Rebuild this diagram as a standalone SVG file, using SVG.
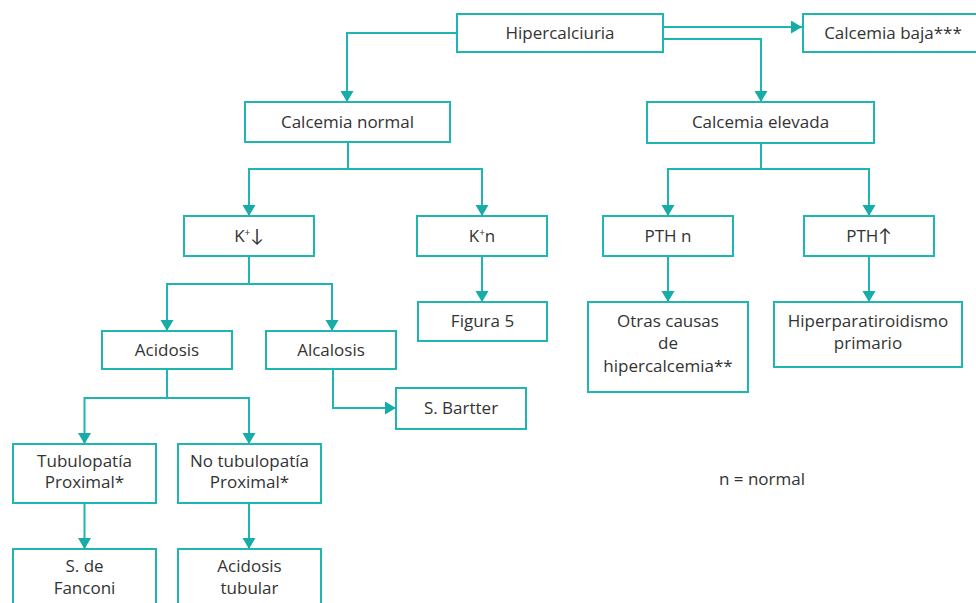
<svg xmlns="http://www.w3.org/2000/svg" width="976" height="603" viewBox="0 0 976 603">
<defs>
<style>
.box{fill:#fff;stroke:#1fb5b0;stroke-width:2}
.t{font-family:"Open Sans","Liberation Sans",sans-serif;font-size:17px;fill:#333;text-anchor:middle}
.c{fill:none;stroke:#1fb5b0;stroke-width:2}
.sup{font-size:10px}
.arr{font-family:Lato,"Liberation Sans",sans-serif;font-size:18px}
</style>
<marker id="ah" markerUnits="userSpaceOnUse" markerWidth="12" markerHeight="14" refX="11" refY="6.5" orient="auto" viewBox="0 0 12 14">
<path d="M0,0 L11,6.5 L0,13 Z" fill="#17aca7"/>
</marker>
</defs>
<rect width="976" height="603" fill="#fff"/>
<g id="connectors">
<path class="c" d="M457,33 H347 V102" marker-end="url(#ah)"/>
<path class="c" d="M663,27 H802" marker-end="url(#ah)"/>
<path class="c" d="M663,39 H761 V102" marker-end="url(#ah)"/>
<path class="c" d="M348,142 V169"/>
<path class="c" d="M348,169 H249 V216" marker-end="url(#ah)"/>
<path class="c" d="M348,169 H482 V216" marker-end="url(#ah)"/>
<path class="c" d="M761,143 V169"/>
<path class="c" d="M761,169 H668 V216" marker-end="url(#ah)"/>
<path class="c" d="M761,169 H869 V216" marker-end="url(#ah)"/>
<path class="c" d="M249,256 V284"/>
<path class="c" d="M249,284 H167 V331" marker-end="url(#ah)"/>
<path class="c" d="M249,284 H332 V331" marker-end="url(#ah)"/>
<path class="c" d="M482,256 V302" marker-end="url(#ah)"/>
<path class="c" d="M668,256 V302" marker-end="url(#ah)"/>
<path class="c" d="M869,256 V302" marker-end="url(#ah)"/>
<path class="c" d="M167,369 V398"/>
<path class="c" d="M167,398 H84.5 V444" marker-end="url(#ah)"/>
<path class="c" d="M167,398 H249 V444" marker-end="url(#ah)"/>
<path class="c" d="M333,369 V408 H396" marker-end="url(#ah)"/>
<path class="c" d="M84.5,503 V549" marker-end="url(#ah)"/>
<path class="c" d="M249,503 V549" marker-end="url(#ah)"/>
</g>
<g id="hipercalciuria"><rect class="box" x="457" y="14" width="206" height="38"/><text class="t" x="560" y="39">Hipercalciuria</text></g>
<g id="calcemia-baja"><rect class="box" x="803" y="14" width="185" height="38"/><text class="t" x="893" y="39">Calcemia baja***</text></g>
<g id="calcemia-normal"><rect class="box" x="245" y="102" width="205" height="40"/><text class="t" x="347.5" y="128">Calcemia normal</text></g>
<g id="calcemia-elevada"><rect class="box" x="647" y="102" width="227" height="41"/><text class="t" x="760.5" y="128">Calcemia elevada</text></g>
<g id="k-bajo"><rect class="box" x="184" y="216" width="130" height="40"/><text class="t" x="249" y="242">K<tspan class="sup" dy="-6">+</tspan><tspan class="arr" dy="6">↓</tspan></text></g>
<g id="k-normal"><rect class="box" x="417" y="216" width="130" height="40"/><text class="t" x="482" y="242">K<tspan class="sup" dy="-6">+</tspan><tspan dy="6">n</tspan></text></g>
<g id="pth-n"><rect class="box" x="603" y="216" width="130" height="40"/><text class="t" x="668" y="242">PTH n</text></g>
<g id="pth-alta"><rect class="box" x="804" y="216" width="130" height="40"/><text class="t" x="869" y="242">PTH<tspan class="arr">↑</tspan></text></g>
<g id="figura5"><rect class="box" x="418" y="302" width="129" height="39"/><text class="t" x="482.5" y="327">Figura 5</text></g>
<g id="otras-causas"><rect class="box" x="588" y="302" width="160" height="90"/><text class="t" x="668" y="327">Otras causas</text><text class="t" x="668" y="349">de</text><text class="t" x="668" y="372">hipercalcemia**</text></g>
<g id="hiperparatiroidismo"><rect class="box" x="774" y="302" width="188" height="65"/><text class="t" x="868" y="327">Hiperparatiroidismo</text><text class="t" x="868" y="349">primario</text></g>
<g id="acidosis"><rect class="box" x="102" y="331" width="130" height="38"/><text class="t" x="167" y="356">Acidosis</text></g>
<g id="alcalosis"><rect class="box" x="266" y="331" width="130" height="38"/><text class="t" x="331" y="356">Alcalosis</text></g>
<g id="bartter"><rect class="box" x="396" y="388" width="130" height="41"/><text class="t" x="461" y="414">S. Bartter</text></g>
<g id="tubulopatia"><rect class="box" x="13" y="444" width="143" height="59"/><text class="t" x="84.5" y="467">Tubulopatía</text><text class="t" x="84.5" y="488">Proximal*</text></g>
<g id="no-tubulopatia"><rect class="box" x="178" y="444" width="143" height="59"/><text class="t" x="249.5" y="467">No tubulopatía</text><text class="t" x="249.5" y="488">Proximal*</text></g>
<g id="fanconi"><rect class="box" x="13" y="549" width="143" height="70"/><text class="t" x="84.5" y="572">S. de</text><text class="t" x="84.5" y="594">Fanconi</text></g>
<g id="acidosis-tubular"><rect class="box" x="178" y="549" width="143" height="70"/><text class="t" x="249.5" y="572">Acidosis</text><text class="t" x="249.5" y="594">tubular</text></g>
<g id="leyenda"><text class="t" x="762" y="485">n = normal</text></g>
</svg>
